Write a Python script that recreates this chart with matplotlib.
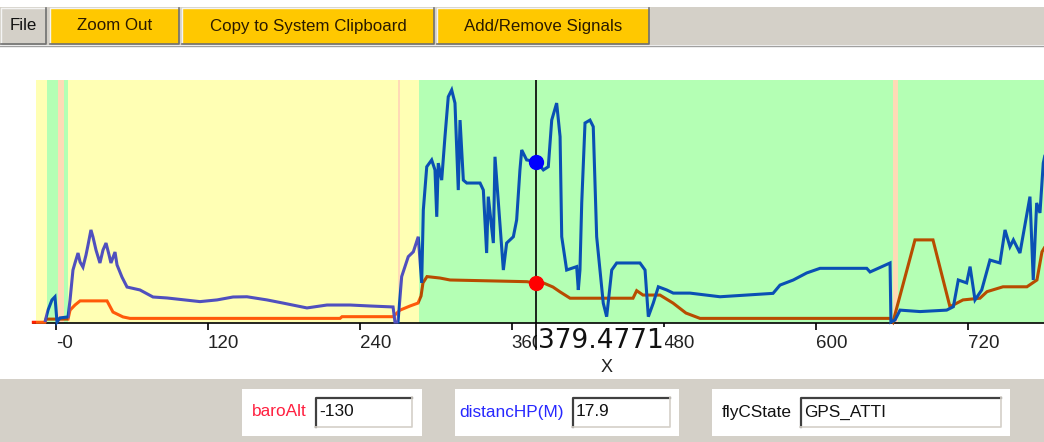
import matplotlib
matplotlib.use('Agg')
import matplotlib.pyplot as plt
from matplotlib.patches import Rectangle
import numpy as np

# ---------------- data ----------------
# distancHP(M) trace (normalised: 0 = axis, 100 = top of plot)
dist_x = [-8.7, -6.3, -3.2, -0.8, 0.8, 3.2, 9.5, 11.1, 13.4, 15.0, 17.4, 19.0, 21.3, 23.7, 25.3,
          27.6, 29.2, 31.6, 34.7, 37.1, 39.5, 41.9, 43.4, 46.6, 48.2, 52.1, 56.1, 66.3, 76.6, 87.7,
          113.7, 127.2, 139.8, 150.8, 166.6, 179.3, 198.2, 214.0, 232.2, 248.0, 266.2, 267.7, 270.1,
          273.0, 278.2, 282.2, 286.1, 288.8, 290.1, 292.8, 296.7, 299.3, 300.7, 301.9, 304.6, 307.2,
          309.8, 312.5, 315.1, 317.7, 319.1, 321.7, 324.4, 334.9, 337.5, 340.1, 341.4, 345.4, 346.7,
          353.3, 355.9, 361.2, 363.8, 366.4, 367.8, 371.7, 379.6, 384.9, 388.8, 391.5, 395.4, 398.1,
          399.4, 403.3, 411.2, 412.5, 413.8, 415.2, 417.8, 421.7, 424.3, 427.0, 429.6, 432.2, 434.9,
          438.9, 442.8, 461.2, 465.2, 467.8, 471.7, 475.7, 482.3, 487.5, 500.7, 524.4, 566.3, 571.8,
          582.3, 592.9, 603.4, 640.3, 642.9, 658.7, 659.4, 662.6, 666.6, 682.4, 703.4, 708.7, 712.6,
          719.2, 721.9, 725.8, 731.1, 737.6, 745.5, 749.5, 753.4, 756.1, 761.3, 769.2, 771.8, 774.5,
          777.1, 779.7, 781.9]
dist_y = [0.4, 5.3, 9.5, 10.8, 0.4, 2.1, 2.5, 9.5, 21.8, 24.7, 28.8, 25.1, 23.0, 28.0, 32.1,
          38.3, 35.4, 30.0, 24.7, 30.0, 32.9, 28.0, 24.7, 29.2, 23.9, 18.9, 14.8, 13.6, 10.7, 10.3,
          8.8, 9.5, 10.7, 10.8, 9.5, 8.2, 6.2, 7.4, 7.4, 7.0, 6.6, 0.4, 0.4,
          19.1, 27.3, 29.3, 35.5, 16.5, 46.5, 64.3, 67.1, 63.0, 43.7, 65.8, 58.8, 76.7,
          93.1, 95.9, 90.5, 54.7, 83.5, 58.8, 57.6, 57.6, 54.7, 28.8, 52.0, 32.9, 68.4,
          21.8, 32.9, 35.5, 42.4, 63.0, 71.2, 67.1, 66.4, 63.0, 64.3, 83.5, 90.5, 76.7,
          35.5, 21.8, 23.2, 13.6, 21.8, 49.4, 82.3, 83.5, 80.8, 35.5, 21.8, 8.2, 2.6,
          21.8, 24.7, 24.7, 21.8, 2.6, 8.2, 14.9, 13.6, 12.3, 12.3, 10.8, 12.2, 15.6,
          17.7, 20.6, 22.5, 22.5, 21.0, 24.7, 0.4, 1.2, 5.3, 4.7, 5.3, 6.7, 17.7,
          16.5, 23.2, 9.5, 13.6, 25.9, 24.7, 38.3, 31.4, 34.2, 28.8, 52.0, 17.7, 49.4,
          45.3, 65.8, 71.2]

# baroAlt trace (normalised)
baro_x = [-17.9, -8.7, -7.9, 9.5, 11.1, 15.0, 19.0, 40.3, 45.0, 52.9, 58.4, 224.3, 225.9, 266.2,
          271.7, 279.6, 285.9, 288.3, 289.8, 293.0, 303.3, 311.2, 372.0, 379.6, 384.9, 392.5, 398.1,
          406.0, 455.7, 458.6, 463.6, 477.0, 487.3, 497.5, 508.6, 658.7, 661.0, 678.4, 692.6, 706.0,
          716.3, 729.7, 735.3, 747.9, 766.8, 774.7, 778.7, 781.9]
baro_y = [0.3, 0.3, 1.6, 1.6, 5.3, 7.4, 9.1, 9.1, 4.5, 2.5, 1.9, 1.9, 2.6, 2.6,
          5.3, 7.0, 8.2, 11.1, 16.5, 19.1, 18.5, 17.7, 17.0, 16.3, 16.5, 14.8, 12.8,
          10.2, 10.2, 13.3, 11.5, 11.5, 8.2, 4.1, 1.9, 1.9, 0.4, 34.2, 34.2, 6.7,
          9.5, 10.2, 12.9, 14.9, 14.9, 17.7, 29.3, 32.1]

# flight-state bands (start, end, state)
bands = [(-16.0, -7.3, 'ATTI'), (-7.3, 1.3, 'GPS_ATTI'), (1.3, 6.3, 'TRANS'),
         (6.3, 9.2, 'GPS_ATTI'), (9.2, 269.9, 'ATTI'), (269.9, 271.7, 'TRANS'),
         (271.7, 286.7, 'ATTI'), (286.7, 661.3, 'GPS_ATTI'), (661.3, 665.2, 'TRANS'),
         (665.2, 790.0, 'GPS_ATTI')]

xticks = [0, 120, 240, 360, 480, 600, 720]
xtick_labels = ['-0', '120', '240', '360', '480', '600', '720']
cursor_x = 379.4771
cursor_label = '379.4771'
buttons = ['Zoom Out', 'Copy to System Clipboard', 'Add/Remove Signals']
fields = [('baroAlt', '-130'), ('distancHP(M)', '17.9'), ('flyCState', 'GPS_ATTI')]

# ---------------- style ----------------
W, H = 1044, 442
GREY = '#d4d0c8'
BAND_COL = {'ATTI': '#ffffb4', 'GPS_ATTI': '#b4ffb4', 'TRANS': '#ffdab6'}
DIST_COL = {'ATTI': '#5050be', 'GPS_ATTI': '#0a50b4', 'TRANS': '#0a50b4'}
BARO_COL = {'ATTI': '#ff5a0a', 'GPS_ATTI': '#b84c00', 'TRANS': '#b84c00'}
FONT = ['Liberation Sans', 'DejaVu Sans']

fig = plt.figure(figsize=(W / 100, H / 100), dpi=100)
fig.patch.set_facecolor('white')

# chrome (pixel-coordinate overlay)
bg = fig.add_axes([0, 0, 1, 1], zorder=0)
bg.set_xlim(0, W)
bg.set_ylim(H, 0)
bg.axis('off')

bg.add_patch(Rectangle((0, 7), W, 38, facecolor=GREY, edgecolor='none'))
bg.plot([0, W], [45.5, 45.5], color='#a0a0a0', lw=1)

def raised(x0, x1, y0, y1, face):
    bg.add_patch(Rectangle((x0, y0), x1 - x0, y1 - y0, facecolor=face, edgecolor='none'))
    bg.plot([x0, x0, x1], [y1, y0, y0], color='#f4f4f4', lw=1)
    bg.plot([x0, x1, x1], [y1, y1, y0], color='#707070', lw=1.2)

raised(1, 46, 8, 44, GREY)
bg.text(23, 26, 'File', ha='center', va='center', fontsize=12.2, family=FONT, color='#111111')
btn_x = [(50, 179), (182, 434), (437, 649)]
for (x0, x1), lab in zip(btn_x, buttons):
    raised(x0, x1, 8, 44, '#ffc800')
    bg.text((x0 + x1) / 2, 26, lab, ha='center', va='center', fontsize=12.2,
            family=FONT, color='#2a1a00')

# bottom panel
bg.add_patch(Rectangle((0, 379), W, H - 379, facecolor=GREY, edgecolor='none'))
boxes = [(242, 422), (455, 679), (712, 1010)]
inputs = [(315, 412), (572, 670), (800, 1001)]
lab_cols = ['#ff2040', '#2828ff', '#111111']
for (bx0, bx1), (ix0, ix1), (name, val), lc in zip(boxes, inputs, fields, lab_cols):
    bg.add_patch(Rectangle((bx0, 389), bx1 - bx0, 47, facecolor='white', edgecolor='none'))
    bg.add_patch(Rectangle((ix0, 397), ix1 - ix0, 30, facecolor='white', edgecolor='none'))
    bg.plot([ix0 + 1, ix0 + 1, ix1], [427, 398, 398], color='#404040', lw=1.6)
    bg.plot([ix0, ix1, ix1], [427, 427, 397], color='#d4d0c8', lw=1.2)
    bg.text(ix0 - 8, 412, name, ha='right', va='center', fontsize=12.4, family=FONT, color=lc)
    bg.text(ix0 + 4, 412, val, ha='left', va='center', fontsize=12.4, family=FONT, color='#111111')

bg.text(607, 367, 'X', ha='center', va='center', fontsize=13, family=FONT, color='#222222')

# ---------------- plot ----------------
ax = fig.add_axes([33 / W, 1 - 323 / H, (W - 33) / W, 243 / H], zorder=2)
ax.patch.set_alpha(0)
x_left = (33 - 56) / 1.2662
x_right = (W - 56) / 1.2662
ax.set_xlim(x_left, x_right)
ax.set_ylim(0, 100)

for a, b, st in bands:
    ax.axvspan(a, b, ymin=0, ymax=1, color=BAND_COL[st], lw=0, zorder=0)

def colored_line(xs, ys, colmap):
    for a, b, st in bands:
        ln, = ax.plot(xs, ys, color=colmap[st], lw=2.2, zorder=3,
                      solid_joinstyle='miter', solid_capstyle='butt')
        ln.set_clip_path(Rectangle((a, -3), b - a, 106, transform=ax.transData))
    # portion before first band
    ln, = ax.plot(xs, ys, color='#ff2000', lw=2.2, zorder=3)
    ln.set_clip_path(Rectangle((x_left - 5, -3), bands[0][0] - x_left + 5, 106,
                               transform=ax.transData))

colored_line(baro_x, baro_y, BARO_COL)
colored_line(dist_x, dist_y, DIST_COL)

# cursor
ax.axvline(cursor_x, color='black', lw=1.2, zorder=4)
ax.plot([cursor_x, cursor_x], [0, -10.7], color='black', lw=1.2, clip_on=False, zorder=4)
ax.plot([cursor_x], [np.interp(cursor_x, dist_x, dist_y)], 'o', color='#0000ff', ms=10, zorder=5)
ax.plot([cursor_x], [np.interp(cursor_x, baro_x, baro_y)], 'o', color='#ff0000', ms=10, zorder=5)

ax.text(cursor_x + 1.2, -10.3, cursor_label, transform=ax.transData, ha='left', va='baseline',
        fontsize=19, family=['DejaVu Sans'], color='#111111', zorder=6, clip_on=False,
        bbox=dict(facecolor='white', edgecolor='none', pad=0.5))

for s in ['top', 'right', 'left']:
    ax.spines[s].set_visible(False)
ax.spines['bottom'].set_color('black')
ax.spines['bottom'].set_linewidth(1.2)
ax.set_yticks([])
ax.set_xticks(xticks)
ax.set_xticklabels(xtick_labels, fontsize=13.5, family=FONT, color='#222222', ha='left')
ax.tick_params(axis='x', direction='out', length=5, width=1.2, color='black', pad=4)

fig.savefig('out.png', dpi=100, facecolor='white')
